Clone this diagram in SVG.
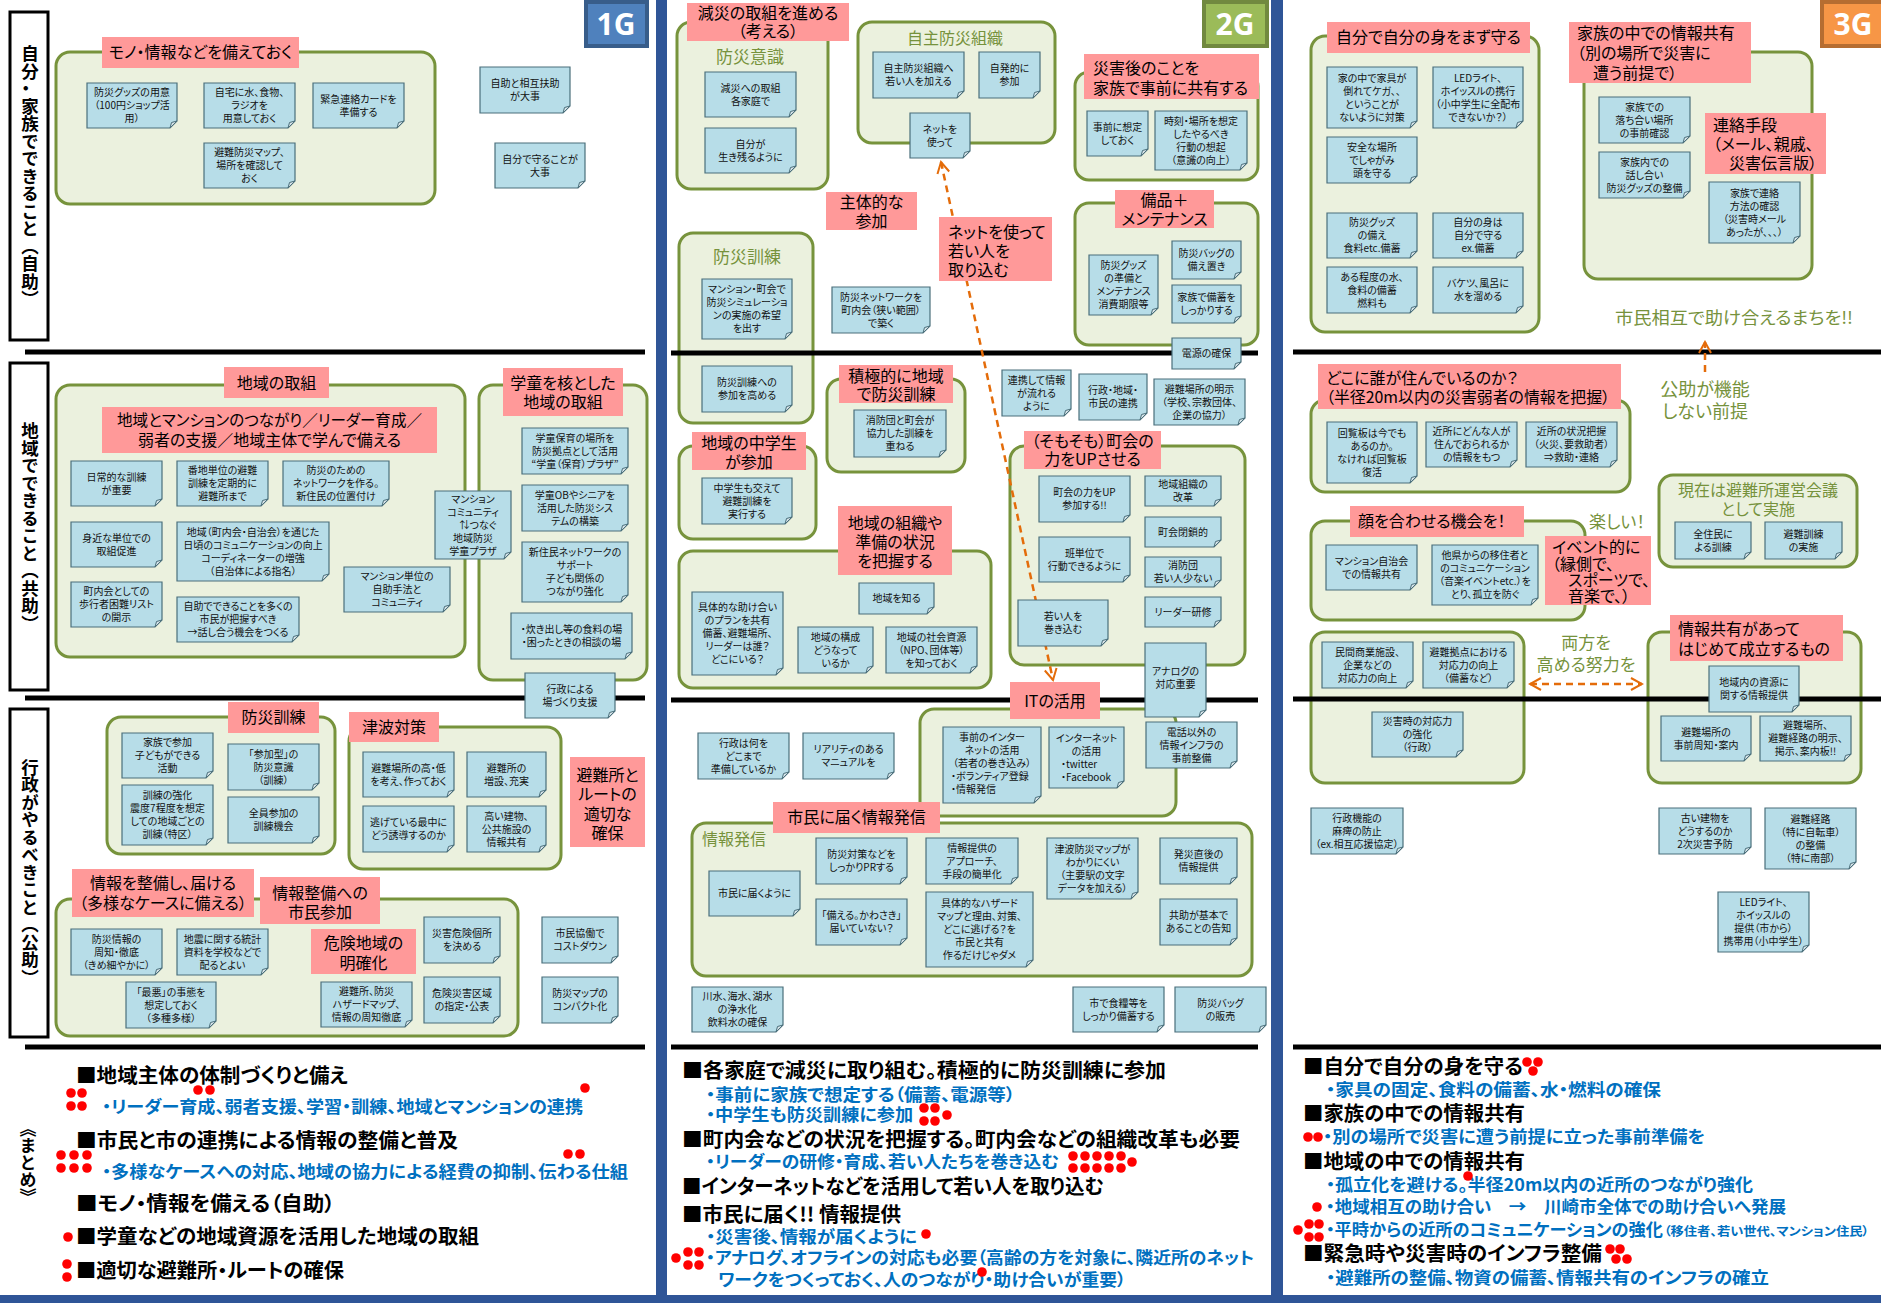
<svg xmlns="http://www.w3.org/2000/svg" xmlns:xlink="http://www.w3.org/1999/xlink" width="1881" height="1303" viewBox="0 0 1881 1303">
<style>
text{font-family:"Noto Sans CJK JP","Noto Sans",sans-serif;font-feature-settings:"palt"}
.n{fill:#b7dde8;stroke:#4a6f7b;stroke-width:1.2}
.f{fill:#d6e3e8;stroke:#4a6f7b;stroke-width:1}
.g{fill:#ebf1de;stroke:#77933c;stroke-width:3}
.p{fill:#ff9999}
.t{font-size:10px;text-anchor:middle;fill:#111}
.tl{font-size:10px;fill:#111}
.L{font-size:16px;fill:#000}
.c{text-anchor:middle}
.o{fill:#76923c}
.h{font-size:20px;font-weight:bold;fill:#000}
.b{font-size:17px;font-weight:bold;fill:#0070c0}
.d{fill:#ff0000}
.hl{stroke:#000;stroke-width:5}
.sep{fill:#2f5597}
.v{font-size:17.5px;font-weight:bold;writing-mode:vertical-rl;text-anchor:middle;fill:#000}
.ar{fill:none;stroke:#e46c0a;stroke-width:2.5;stroke-dasharray:7 5}
.bg{font-family:"Noto Sans",sans-serif;font-size:30px;font-weight:bold;fill:#fff;text-anchor:middle}
</style>
<defs>
<path id="f" class="f" d="M0 -7L-7 0L-5.5 -5.5Z"/>
<marker id="ah" viewBox="0 0 14 14" refX="12" refY="7" markerWidth="14" markerHeight="14" markerUnits="userSpaceOnUse" orient="auto-start-reverse"><path d="M1 1L12 7L1 13" fill="none" stroke="#e46c0a" stroke-width="2"/></marker>
</defs>
<rect width="1881" height="1303" fill="#fff"/>

<!-- frame bars -->
<g id="frame">
<rect class="sep" x="656" y="0" width="11" height="1303"/>
<rect class="sep" x="1271" y="0" width="12" height="1303"/>
<rect class="sep" x="0" y="1295" width="1881" height="8"/>
</g>

<!-- badges and row labels -->
<g id="badge1"><rect x="586" y="2" width="61" height="44" fill="#4f81bd" stroke="#385d8a" stroke-width="4"/><text class="bg" x="616" y="35">1G</text></g>
<g id="badge2"><rect x="1204" y="2" width="63" height="44" fill="#9bbb59" stroke="#71893f" stroke-width="4"/><text class="bg" x="1235" y="35">2G</text></g>
<g id="badge3"><rect x="1822" y="2" width="62" height="44" fill="#f79646" stroke="#b66d31" stroke-width="4"/><text class="bg" x="1853" y="35">3G</text></g>
<g id="row1"><rect x="10" y="12" width="38" height="328" fill="#fff" stroke="#000" stroke-width="3"/><text class="v" x="30" y="176">自分・家族でできること（自助）</text></g>
<g id="row2"><rect x="10" y="363" width="38" height="327" fill="#fff" stroke="#000" stroke-width="3"/><text class="v" x="30" y="527">地域でできること（共助）</text></g>
<g id="row3"><rect x="10" y="709" width="38" height="328" fill="#fff" stroke="#000" stroke-width="3"/><text class="v" x="30" y="872">行政がやるべきこと（公助）</text></g>
<g id="matome"><text class="v" x="28" y="1163" style="font-size:17px">《まとめ》</text></g>

<!-- containers -->
<g id="g-mono"><rect class="g" x="56" y="52" width="379" height="152" rx="14"/></g>
<g id="g-chiiki"><rect class="g" x="56" y="385" width="409" height="272" rx="14"/></g>
<g id="g-gakudo"><rect class="g" x="479" y="385" width="168" height="295" rx="14"/></g>
<g id="g-kunren1"><rect class="g" x="107" y="717" width="228" height="137" rx="14"/></g>
<g id="g-tsunami"><rect class="g" x="349" y="727" width="212" height="142" rx="14"/></g>
<g id="g-joho"><rect class="g" x="56" y="899" width="462" height="137" rx="14"/></g>
<g id="g-ishiki"><rect class="g" x="677" y="22" width="151" height="167" rx="14"/><text class="c o" x="750" y="63" font-size="17">防災意識</text></g>
<g id="g-jishu"><rect class="g" x="858" y="22" width="197" height="121" rx="14"/><text class="c o" x="955" y="44" font-size="16">自主防災組織</text></g>
<g id="g-saigaigo"><rect class="g" x="1075" y="72" width="183" height="108" rx="14"/></g>
<g id="g-kunren2"><rect class="g" x="679" y="233" width="134" height="190" rx="14"/><text class="c o" x="747" y="263" font-size="17">防災訓練</text></g>
<g id="g-bihin"><rect class="g" x="1075" y="203" width="183" height="142" rx="14"/></g>
<g id="g-sekkyoku"><rect class="g" x="827" y="379" width="138" height="93" rx="14"/></g>
<g id="g-chugaku"><rect class="g" x="679" y="446" width="137" height="93" rx="14"/></g>
<g id="g-soshiki"><rect class="g" x="679" y="551" width="312" height="137" rx="14"/></g>
<g id="g-chokai"><rect class="g" x="1010" y="446" width="235" height="219" rx="14"/></g>
<g id="g-it"><rect class="g" x="920" y="709" width="256" height="107" rx="14"/></g>
<g id="g-todoku"><rect class="g" x="692" y="823" width="560" height="153" rx="14"/><text class="o" x="702" y="845" font-size="16">情報発信</text></g>
<g id="g-jibun"><rect class="g" x="1311" y="36" width="228" height="296" rx="14"/></g>
<g id="g-kazoku"><rect class="g" x="1584" y="52" width="228" height="227" rx="14"/></g>
<g id="g-doko"><rect class="g" x="1311" y="400" width="319" height="92" rx="14"/></g>
<g id="g-genzai"><rect class="g" x="1659" y="475" width="198" height="92" rx="14"/><text class="c o" x="1758" y="496" font-size="16">現在は避難所運営会議<tspan x="1758" dy="19">として実施</tspan></text></g>
<g id="g-kao"><rect class="g" x="1311" y="521" width="274" height="99" rx="14"/></g>
<g id="g-taio"><rect class="g" x="1311" y="632" width="213" height="151" rx="14"/></g>
<g id="g-kyoyu"><rect class="g" x="1648" y="632" width="213" height="151" rx="14"/></g>

<!-- row separator lines -->
<g id="lines">
<line class="hl" x1="25" y1="352" x2="645" y2="352"/><line class="hl" x1="25" y1="698" x2="645" y2="698"/><line class="hl" x1="25" y1="1047" x2="645" y2="1047"/>
<line class="hl" x1="671" y1="353" x2="1258" y2="353"/><line class="hl" x1="671" y1="700" x2="1258" y2="700"/><line class="hl" x1="671" y1="1047" x2="1258" y2="1047"/>
<line class="hl" x1="1293" y1="352" x2="1881" y2="352"/><line class="hl" x1="1293" y1="699" x2="1881" y2="699"/><line class="hl" x1="1293" y1="1047" x2="1881" y2="1047"/>
</g>

<!-- connectors -->
<g id="connectors">
<path class="ar" d="M941 162L1053 680" marker-start="url(#ah)" marker-end="url(#ah)"/>
<path class="ar" d="M1705 372V342" marker-end="url(#ah)"/>
<path class="ar" d="M1530 684H1642" marker-start="url(#ah)" marker-end="url(#ah)"/>
</g>

<!-- pink labels -->
<g id="p1"><rect class="p" x="102" y="37" width="197" height="31"/><text class="L c" x="200.5" y="58" font-size="15">モノ・情報などを備えておく</text></g>
<g id="p2"><rect class="p" x="224" y="367" width="105" height="31"/><text class="L c" x="276.5" y="389" font-size="17">地域の取組</text></g>
<g id="p3"><rect class="p" x="102" y="407" width="335" height="46"/><text class="L c" x="269.5" y="426" font-size="15" textLength="305" lengthAdjust="spacingAndGlyphs">地域とマンションのつながり／リーダー育成／</text><text class="L c" x="269.5" y="446" font-size="15" textLength="263" lengthAdjust="spacingAndGlyphs">弱者の支援／地域主体で学んで備える</text></g>
<g id="p4"><rect class="p" x="503" y="368" width="120" height="48"/><text class="L c" x="563" y="389">学童を核とした<tspan x="563" dy="19">地域の取組</tspan></text></g>
<g id="p5"><rect class="p" x="228" y="702" width="91" height="31"/><text class="L c" x="273.5" y="723" font-size="17">防災訓練</text></g>
<g id="p6"><rect class="p" x="349" y="712" width="90" height="30"/><text class="L c" x="394" y="733" font-size="17">津波対策</text></g>
<g id="p7"><rect class="p" x="570" y="757" width="75" height="90"/><text class="L c" x="607.5" y="781" font-size="17">避難所と<tspan x="607.5" dy="19.3">ルートの</tspan><tspan x="607.5" dy="19.3">適切な</tspan><tspan x="607.5" dy="19.3">確保</tspan></text></g>
<g id="p8"><rect class="p" x="72" y="869" width="182" height="48"/><text class="L c" x="163" y="889">情報を整備し、届ける<tspan x="163" dy="20">（多様なケースに備える）</tspan></text></g>
<g id="p9"><rect class="p" x="260" y="877" width="120" height="47"/><text class="L c" x="320" y="899">情報整備への<tspan x="320" dy="19">市民参加</tspan></text></g>
<g id="p10"><rect class="p" x="311" y="929" width="105" height="45"/><text class="L c" x="363.5" y="949" font-size="17">危険地域の<tspan x="363.5" dy="20">明確化</tspan></text></g>
<g id="p11"><rect class="p" x="687" y="3" width="162" height="38"/><text class="L c" x="768" y="19">減災の取組を進める<tspan x="768" dy="18">（考える）</tspan></text></g>
<g id="p12"><rect class="p" x="1084" y="54" width="175" height="45"/><text class="L" x="1093" y="74">災害後のことを<tspan x="1093" dy="20">家族で事前に共有する</tspan></text></g>
<g id="p13"><rect class="p" x="826" y="192" width="91" height="38"/><text class="L c" x="871.5" y="208" font-size="17">主体的な<tspan x="871.5" dy="19">参加</tspan></text></g>
<g id="p14"><rect class="p" x="939" y="217" width="113" height="64"/><text class="L" x="948" y="238" font-size="17">ネットを使って<tspan x="948" dy="19">若い人を</tspan><tspan x="948" dy="19">取り込む</tspan></text></g>
<g id="p15"><rect class="p" x="1115" y="190" width="99" height="38"/><text class="L c" x="1164.5" y="206">備品＋<tspan x="1164.5" dy="19">メンテナンス</tspan></text></g>
<g id="p16"><rect class="p" x="839" y="365" width="114" height="38"/><text class="L c" x="896" y="382" font-size="17">積極的に地域<tspan x="896" dy="18">で防災訓練</tspan></text></g>
<g id="p17"><rect class="p" x="692" y="432" width="114" height="38"/><text class="L c" x="749" y="449" font-size="17">地域の中学生<tspan x="749" dy="19">が参加</tspan></text></g>
<g id="p18"><rect class="p" x="838" y="506" width="114" height="69"/><text class="L c" x="895" y="529" font-size="17">地域の組織や<tspan x="895" dy="19">準備の状況</tspan><tspan x="895" dy="19">を把握する</tspan></text></g>
<g id="p19"><rect class="p" x="1024" y="431" width="137" height="38"/><text class="L c" x="1092.5" y="447">（そもそも）町会の<tspan x="1092.5" dy="18">力をUPさせる</tspan></text></g>
<g id="p20"><rect class="p" x="1010" y="682" width="90" height="37"/><text class="L c" x="1055" y="707" font-size="17">ITの活用</text></g>
<g id="p21"><rect class="p" x="773" y="802" width="167" height="31"/><text class="L c" x="856.5" y="823">市民に届く情報発信</text></g>
<g id="p22"><rect class="p" x="1327" y="22" width="203" height="31"/><text class="L c" x="1428.5" y="43">自分で自分の身をまず守る</text></g>
<g id="p23"><rect class="p" x="1569" y="22" width="182" height="61"/><text class="L" x="1577" y="39">家族の中での情報共有<tspan x="1577" dy="20">（別の場所で災害に</tspan><tspan x="1577" dy="20">　遭う前提で）</tspan></text></g>
<g id="p24"><rect class="p" x="1705" y="113" width="121" height="61"/><text class="L" x="1713" y="131">連絡手段<tspan x="1713" dy="19">（メール、親戚、</tspan><tspan x="1713" dy="19">　災害伝言版）</tspan></text></g>
<g id="p25"><rect class="p" x="1318" y="364" width="303" height="45"/><text class="L" x="1326" y="384">どこに誰が住んでいるのか？</text><text class="L" x="1326" y="403" textLength="284" lengthAdjust="spacingAndGlyphs">（半径20m以内の災害弱者の情報を把握）</text></g>
<g id="p26"><rect class="p" x="1350" y="506" width="174" height="31"/><text class="L" x="1358" y="527">顔を合わせる機会を！</text></g>
<g id="p27"><rect class="p" x="1545" y="536" width="106" height="69"/><text class="L" x="1552" y="553" font-size="15">イベント的に<tspan x="1552" dy="16.5">（縁側で、</tspan><tspan x="1552" dy="16">　スポーツで、</tspan><tspan x="1552" dy="16">　音楽で、）</tspan></text></g>
<g id="p28"><rect class="p" x="1670" y="615" width="173" height="46"/><text class="L" x="1678" y="635">情報共有があって<tspan x="1678" dy="20">はじめて成立するもの</tspan></text></g>

<!-- free green texts -->
<g id="tx-machi"><text class="o" x="1615" y="324" font-size="17" textLength="238" lengthAdjust="spacingAndGlyphs">市民相互で助け合えるまちを!!</text></g>
<g id="tx-kojo"><text class="c o" x="1705" y="396" font-size="18">公助が機能<tspan x="1705" dy="22">しない前提</tspan></text></g>
<g id="tx-tanoshii"><text class="o" x="1589" y="528" font-size="17">楽しい！</text></g>
<g id="tx-ryoho"><text class="c o" x="1586" y="649" font-size="17">両方を<tspan x="1586" dy="22">高める努力を</tspan></text></g>

<!-- notes column 1 -->
<g id="n1"><path class="n" d="M87 83h90v38l-7 7H87z"/><use href="#f" x="177" y="128"/><text class="t" x="132" y="96">防災グッズの用意<tspan x="132" dy="13">（100円ショップ活</tspan><tspan x="132" dy="13">用）</tspan></text></g>
<g id="n2"><path class="n" d="M204 83h91v38l-7 7H204z"/><use href="#f" x="295" y="128"/><text class="t" x="249.5" y="96">自宅に水、食物、<tspan x="249.5" dy="13">ラジオを</tspan><tspan x="249.5" dy="13">用意しておく</tspan></text></g>
<g id="n3"><path class="n" d="M313 83h91v38l-7 7H313z"/><use href="#f" x="404" y="128"/><text class="t" x="358.5" y="102.5">緊急連絡カードを<tspan x="358.5" dy="13">準備する</tspan></text></g>
<g id="n4"><path class="n" d="M204 143h91v38l-7 7H204z"/><use href="#f" x="295" y="188"/><text class="t" x="249.5" y="156">避難防災マップ、<tspan x="249.5" dy="13">場所を確認して</tspan><tspan x="249.5" dy="13">おく</tspan></text></g>
<g id="n5"><path class="n" d="M480 67h90v39l-7 7H480z"/><use href="#f" x="570" y="113"/><text class="t" x="525" y="87">自助と相互扶助<tspan x="525" dy="13">が大事</tspan></text></g>
<g id="n6"><path class="n" d="M495 143h90v38l-7 7H495z"/><use href="#f" x="585" y="188"/><text class="t" x="540" y="162.5">自分で守ることが<tspan x="540" dy="13">大事</tspan></text></g>
<g id="n7"><path class="n" d="M71 461h91v38l-7 7H71z"/><use href="#f" x="162" y="506"/><text class="t" x="116.5" y="480.5">日常的な訓練<tspan x="116.5" dy="13">が重要</tspan></text></g>
<g id="n8"><path class="n" d="M177 461h91v38l-7 7H177z"/><use href="#f" x="268" y="506"/><text class="t" x="222.5" y="474">番地単位の避難<tspan x="222.5" dy="13">訓練を定期的に</tspan><tspan x="222.5" dy="13">避難所まで</tspan></text></g>
<g id="n9"><path class="n" d="M283 461h106v38l-7 7H283z"/><use href="#f" x="389" y="506"/><text class="t" x="336" y="474">防災のための<tspan x="336" dy="13">ネットワークを作る。</tspan><tspan x="336" dy="13">新住民の位置付け</tspan></text></g>
<g id="n10"><path class="n" d="M71 522h91v38l-7 7H71z"/><use href="#f" x="162" y="567"/><text class="t" x="116.5" y="541.5">身近な単位での<tspan x="116.5" dy="13">取組促進</tspan></text></g>
<g id="n11"><path class="n" d="M177 522h152v52l-7 7H177z"/><use href="#f" x="329" y="581"/><text class="t" x="253" y="535.5">地域（町内会・自治会）を通じた<tspan x="253" dy="13">日頃のコミュニケーションの向上</tspan><tspan x="253" dy="13">コーディネーターの増強</tspan><tspan x="253" dy="13">（自治体による指名）</tspan></text></g>
<g id="n12"><path class="n" d="M71 582h91v38l-7 7H71z"/><use href="#f" x="162" y="627"/><text class="t" x="116.5" y="595">町内会としての<tspan x="116.5" dy="13">歩行者困難リスト</tspan><tspan x="116.5" dy="13">の開示</tspan></text></g>
<g id="n13"><path class="n" d="M177 597h122v38l-7 7H177z"/><use href="#f" x="299" y="642"/><text class="t" x="238" y="610">自助でできることを多くの<tspan x="238" dy="13">市民が把握すべき</tspan><tspan x="238" dy="13">→話し合う機会をつくる</tspan></text></g>
<g id="n14"><path class="n" d="M344 567h106v38l-7 7H344z"/><use href="#f" x="450" y="612"/><text class="t" x="397" y="580">マンション単位の<tspan x="397" dy="13">自助手法と</tspan><tspan x="397" dy="13">コミュニティ</tspan></text></g>
<g id="n15"><path class="n" d="M435 491h76v61l-7 7H435z"/><use href="#f" x="511" y="559"/><text class="t" x="473" y="502.5">マンション<tspan x="473" dy="13">コミュニティ</tspan><tspan x="478" dy="13">⇅つなぐ</tspan><tspan x="473" dy="13">地域防災</tspan><tspan x="473" dy="13">学童プラザ</tspan></text></g>
<g id="n16"><path class="n" d="M522 428h106v39l-7 7H522z"/><use href="#f" x="628" y="474"/><text class="t" x="575" y="441.5">学童保育の場所を<tspan x="575" dy="13">防災拠点として活用</tspan><tspan x="575" dy="13">“学童（保育）プラザ”</tspan></text></g>
<g id="n17"><path class="n" d="M522 485h106v39l-7 7H522z"/><use href="#f" x="628" y="531"/><text class="t" x="575" y="498.5">学童OBやシニアを<tspan x="575" dy="13">活用した防災シス</tspan><tspan x="575" dy="13">テムの構築</tspan></text></g>
<g id="n18"><path class="n" d="M522 542h106v53l-7 7H522z"/><use href="#f" x="628" y="602"/><text class="t" x="575" y="556">新住民ネットワークの<tspan x="575" dy="13">サポート</tspan><tspan x="575" dy="13">子ども関係の</tspan><tspan x="575" dy="13">つながり強化</tspan></text></g>
<g id="n19"><path class="n" d="M511 613h121v39l-7 7H511z"/><use href="#f" x="632" y="659"/><text class="t" x="571.5" y="633">・炊き出し等の食料の場<tspan x="571.5" dy="13">・困ったときの相談の場</tspan></text></g>
<g id="n20"><path class="n" d="M525 673h90v38l-7 7H525z"/><use href="#f" x="615" y="718"/><text class="t" x="570" y="692.5">行政による<tspan x="570" dy="13">場づくり支援</tspan></text></g>
<g id="n21"><path class="n" d="M122 733h91v38l-7 7H122z"/><use href="#f" x="213" y="778"/><text class="t" x="167.5" y="746">家族で参加<tspan x="167.5" dy="13">子どもができる</tspan><tspan x="167.5" dy="13">活動</tspan></text></g>
<g id="n22"><path class="n" d="M228 744h91v39l-7 7H228z"/><use href="#f" x="319" y="790"/><text class="t" x="273.5" y="757.5">「参加型」の<tspan x="273.5" dy="13">防災意識</tspan><tspan x="273.5" dy="13">（訓練）</tspan></text></g>
<g id="n23"><path class="n" d="M122 785h91v53l-7 7H122z"/><use href="#f" x="213" y="845"/><text class="t" x="167.5" y="799">訓練の強化<tspan x="167.5" dy="13">震度7程度を想定</tspan><tspan x="167.5" dy="13">しての地域ごとの</tspan><tspan x="167.5" dy="13">訓練（特区）</tspan></text></g>
<g id="n24"><path class="n" d="M228 797h91v39l-7 7H228z"/><use href="#f" x="319" y="843"/><text class="t" x="273.5" y="817">全員参加の<tspan x="273.5" dy="13">訓練機会</tspan></text></g>
<g id="n25"><path class="n" d="M363 752h91v38l-7 7H363z"/><use href="#f" x="454" y="797"/><text class="t" x="408.5" y="771.5">避難場所の高・低<tspan x="408.5" dy="13">を考え、作っておく</tspan></text></g>
<g id="n26"><path class="n" d="M467 752h79v38l-7 7H467z"/><use href="#f" x="546" y="797"/><text class="t" x="506.5" y="771.5">避難所の<tspan x="506.5" dy="13">増設、充実</tspan></text></g>
<g id="n27"><path class="n" d="M363 806h91v39l-7 7H363z"/><use href="#f" x="454" y="852"/><text class="t" x="408.5" y="826">逃げている最中に<tspan x="408.5" dy="13">どう誘導するのか</tspan></text></g>
<g id="n28"><path class="n" d="M467 806h79v39l-7 7H467z"/><use href="#f" x="546" y="852"/><text class="t" x="506.5" y="819.5">高い建物、<tspan x="506.5" dy="13">公共施設の</tspan><tspan x="506.5" dy="13">情報共有</tspan></text></g>
<g id="n29"><path class="n" d="M71 929h91v39l-7 7H71z"/><use href="#f" x="162" y="975"/><text class="t" x="116.5" y="942.5">防災情報の<tspan x="116.5" dy="13">周知・徹底</tspan><tspan x="116.5" dy="13">（きめ細やかに）</tspan></text></g>
<g id="n30"><path class="n" d="M177 929h91v39l-7 7H177z"/><use href="#f" x="268" y="975"/><text class="t" x="222.5" y="942.5">地震に関する統計<tspan x="222.5" dy="13">資料を学校などで</tspan><tspan x="222.5" dy="13">配るとよい</tspan></text></g>
<g id="n31"><path class="n" d="M126 982h90v39l-7 7H126z"/><use href="#f" x="216" y="1028"/><text class="t" x="171" y="995.5">「最悪」の事態を<tspan x="171" dy="13">想定しておく</tspan><tspan x="171" dy="13">（多種多様）</tspan></text></g>
<g id="n32"><path class="n" d="M424 917h76v39l-7 7H424z"/><use href="#f" x="500" y="963"/><text class="t" x="462" y="937">災害危険個所<tspan x="462" dy="13">を決める</tspan></text></g>
<g id="n33"><path class="n" d="M321 982h91v38l-7 7H321z"/><use href="#f" x="412" y="1027"/><text class="t" x="366.5" y="995">避難所、防災<tspan x="366.5" dy="13">ハザードマップ、</tspan><tspan x="366.5" dy="13">情報の周知徹底</tspan></text></g>
<g id="n34"><path class="n" d="M424 977h76v39l-7 7H424z"/><use href="#f" x="500" y="1023"/><text class="t" x="462" y="997">危険災害区域<tspan x="462" dy="13">の指定・公表</tspan></text></g>
<g id="n35"><path class="n" d="M542 917h76v39l-7 7H542z"/><use href="#f" x="618" y="963"/><text class="t" x="580" y="937">市民協働で<tspan x="580" dy="13">コストダウン</tspan></text></g>
<g id="n36"><path class="n" d="M542 977h76v39l-7 7H542z"/><use href="#f" x="618" y="1023"/><text class="t" x="580" y="997">防災マップの<tspan x="580" dy="13">コンパクト化</tspan></text></g>

<!-- notes column 2 -->
<g id="n37"><path class="n" d="M705 72h91v38l-7 7H705z"/><use href="#f" x="796" y="117"/><text class="t" x="750.5" y="91.5">減災への取組<tspan x="750.5" dy="13">各家庭で</tspan></text></g>
<g id="n38"><path class="n" d="M705 128h91v38l-7 7H705z"/><use href="#f" x="796" y="173"/><text class="t" x="750.5" y="147.5">自分が<tspan x="750.5" dy="13">生き残るように</tspan></text></g>
<g id="n39"><path class="n" d="M873 52h91v39l-7 7H873z"/><use href="#f" x="964" y="98"/><text class="t" x="918.5" y="72">自主防災組織へ<tspan x="918.5" dy="13">若い人を加える</tspan></text></g>
<g id="n40"><path class="n" d="M979 52h61v39l-7 7H979z"/><use href="#f" x="1040" y="98"/><text class="t" x="1009.5" y="72">自発的に<tspan x="1009.5" dy="13">参加</tspan></text></g>
<g id="n41"><path class="n" d="M910 113h60v38l-7 7H910z"/><use href="#f" x="970" y="158"/><text class="t" x="940" y="132.5">ネットを<tspan x="940" dy="13">使って</tspan></text></g>
<g id="n42"><path class="n" d="M1087 111h61v38l-7 7H1087z"/><use href="#f" x="1148" y="156"/><text class="t" x="1117.5" y="130.5">事前に想定<tspan x="1117.5" dy="13">しておく</tspan></text></g>
<g id="n43"><path class="n" d="M1155 111h92v52l-7 7H1155z"/><use href="#f" x="1247" y="170"/><text class="t" x="1201" y="124.5">時刻・場所を想定<tspan x="1201" dy="13">したやるべき</tspan><tspan x="1201" dy="13">行動の想起</tspan><tspan x="1201" dy="13">（意識の向上）</tspan></text></g>
<g id="n44"><path class="n" d="M702 279h90v53l-7 7H702z"/><use href="#f" x="792" y="339"/><text class="t" x="747" y="293">マンション・町会で<tspan x="747" dy="13">防災シミュレーショ</tspan><tspan x="747" dy="13">ンの実施の希望</tspan><tspan x="747" dy="13">を出す</tspan></text></g>
<g id="n45"><path class="n" d="M702 366h90v39l-7 7H702z"/><use href="#f" x="792" y="412"/><text class="t" x="747" y="386">防災訓練への<tspan x="747" dy="13">参加を高める</tspan></text></g>
<g id="n46"><path class="n" d="M832 287h98v39l-7 7H832z"/><use href="#f" x="930" y="333"/><text class="t" x="881" y="300.5">防災ネットワークを<tspan x="881" dy="13">町内会（狭い範囲）</tspan><tspan x="881" dy="13">で築く</tspan></text></g>
<g id="n47"><path class="n" d="M1089 255h69v53l-7 7H1089z"/><use href="#f" x="1158" y="315"/><text class="t" x="1123.5" y="269">防災グッズ<tspan x="1123.5" dy="13">の準備と</tspan><tspan x="1123.5" dy="13">メンテナンス</tspan><tspan x="1123.5" dy="13">消費期限等</tspan></text></g>
<g id="n48"><path class="n" d="M1172 241h69v31l-7 7H1172z"/><use href="#f" x="1241" y="279"/><text class="t" x="1206.5" y="257">防災バッグの<tspan x="1206.5" dy="13">備え置き</tspan></text></g>
<g id="n49"><path class="n" d="M1172 285h69v31l-7 7H1172z"/><use href="#f" x="1241" y="323"/><text class="t" x="1206.5" y="301">家族で備蓄を<tspan x="1206.5" dy="13">しっかりする</tspan></text></g>
<g id="n50"><path class="n" d="M1172 338h69v24l-7 7H1172z"/><use href="#f" x="1241" y="369"/><text class="t" x="1206.5" y="357">電源の確保</text></g>
<g id="n51"><path class="n" d="M854 410h92v40l-7 7H854z"/><use href="#f" x="946" y="457"/><text class="t" x="900" y="424">消防団と町会が<tspan x="900" dy="13">協力した訓練を</tspan><tspan x="900" dy="13">重ねる</tspan></text></g>
<g id="n52"><path class="n" d="M702 478h90v39l-7 7H702z"/><use href="#f" x="792" y="524"/><text class="t" x="747" y="491.5">中学生も交えて<tspan x="747" dy="13">避難訓練を</tspan><tspan x="747" dy="13">実行する</tspan></text></g>
<g id="n53"><path class="n" d="M692 592h91v76l-7 7H692z"/><use href="#f" x="783" y="675"/><text class="t" x="737.5" y="611">具体的な助け合い<tspan x="737.5" dy="13">のプランを共有</tspan><tspan x="737.5" dy="13">備蓄、避難場所、</tspan><tspan x="737.5" dy="13">リーダーは誰？</tspan><tspan x="737.5" dy="13">どこにいる？</tspan></text></g>
<g id="n54"><path class="n" d="M859 583h75v24l-7 7H859z"/><use href="#f" x="934" y="614"/><text class="t" x="896.5" y="602">地域を知る</text></g>
<g id="n55"><path class="n" d="M798 627h75v39l-7 7H798z"/><use href="#f" x="873" y="673"/><text class="t" x="835.5" y="640.5">地域の構成<tspan x="835.5" dy="13">どうなって</tspan><tspan x="835.5" dy="13">いるか</tspan></text></g>
<g id="n56"><path class="n" d="M886 627h91v39l-7 7H886z"/><use href="#f" x="977" y="673"/><text class="t" x="931.5" y="640.5">地域の社会資源<tspan x="931.5" dy="13">（NPO、団体等）</tspan><tspan x="931.5" dy="13">を知っておく</tspan></text></g>
<g id="n57"><path class="n" d="M1002 370h69v39l-7 7H1002z"/><use href="#f" x="1071" y="416"/><text class="t" x="1036.5" y="383.5">連携して情報<tspan x="1036.5" dy="13">が流れる</tspan><tspan x="1036.5" dy="13">ように</tspan></text></g>
<g id="n58"><path class="n" d="M1079 374h68v39l-7 7H1079z"/><use href="#f" x="1147" y="420"/><text class="t" x="1113" y="394">行政・地域・<tspan x="1113" dy="13">市民の連携</tspan></text></g>
<g id="n59"><path class="n" d="M1154 379h91v39l-7 7H1154z"/><use href="#f" x="1245" y="425"/><text class="t" x="1199.5" y="392.5">避難場所の明示<tspan x="1199.5" dy="13">（学校、宗教団体、</tspan><tspan x="1199.5" dy="13">企業の協力）</tspan></text></g>
<g id="n60"><path class="n" d="M1039 476h91v39l-7 7H1039z"/><use href="#f" x="1130" y="522"/><text class="t" x="1084.5" y="496">町会の力をUP<tspan x="1084.5" dy="13">参加する!!</tspan></text></g>
<g id="n61"><path class="n" d="M1145 476h76v23l-7 7H1145z"/><use href="#f" x="1221" y="506"/><text class="t" x="1183" y="488">地域組織の<tspan x="1183" dy="13">改革</tspan></text></g>
<g id="n62"><path class="n" d="M1145 517h76v23l-7 7H1145z"/><use href="#f" x="1221" y="547"/><text class="t" x="1183" y="535.5">町会閉鎖的</text></g>
<g id="n63"><path class="n" d="M1039 537h91v38l-7 7H1039z"/><use href="#f" x="1130" y="582"/><text class="t" x="1084.5" y="556.5">班単位で<tspan x="1084.5" dy="13">行動できるように</tspan></text></g>
<g id="n64"><path class="n" d="M1145 557h76v23l-7 7H1145z"/><use href="#f" x="1221" y="587"/><text class="t" x="1183" y="569">消防団<tspan x="1183" dy="13">若い人少ない</tspan></text></g>
<g id="n65"><path class="n" d="M1018 600h90v39l-7 7H1018z"/><use href="#f" x="1108" y="646"/><text class="t" x="1063" y="620">若い人を<tspan x="1063" dy="13">巻き込む</tspan></text></g>
<g id="n66"><path class="n" d="M1145 597h76v23l-7 7H1145z"/><use href="#f" x="1221" y="627"/><text class="t" x="1183" y="615.5">リーダー研修</text></g>
<g id="n67"><path class="n" d="M1145 643h61v67l-7 7H1145z"/><use href="#f" x="1206" y="717"/><text class="t" x="1175.5" y="675">アナログの<tspan x="1175.5" dy="13">対応重要</tspan></text></g>
<g id="n68"><path class="n" d="M943 727h98v69l-7 7H943z"/><use href="#f" x="1041" y="803"/><text class="t" x="992" y="741">事前のインター<tspan x="992" dy="13">ネットの活用</tspan><tspan x="992" dy="13">（若者の巻き込み）</tspan><tspan x="951" dy="13" text-anchor="start">・ボランティア登録</tspan><tspan x="951" dy="13" text-anchor="start">・情報発信</tspan></text></g>
<g id="n69"><path class="n" d="M1049 727h75v54l-7 7H1049z"/><use href="#f" x="1124" y="788"/><text class="t" x="1086.5" y="741.5">インターネット<tspan x="1086.5" dy="13">の活用</tspan><tspan x="1061" dy="13" text-anchor="start">・twitter</tspan><tspan x="1061" dy="13" text-anchor="start">・Facebook</tspan></text></g>
<g id="n70"><path class="n" d="M1146 722h91v39l-7 7H1146z"/><use href="#f" x="1237" y="768"/><text class="t" x="1191.5" y="735.5">電話以外の<tspan x="1191.5" dy="13">情報インフラの</tspan><tspan x="1191.5" dy="13">事前整備</tspan></text></g>
<g id="n71"><path class="n" d="M698 733h91v39l-7 7H698z"/><use href="#f" x="789" y="779"/><text class="t" x="743.5" y="746.5">行政は何を<tspan x="743.5" dy="13">どこまで</tspan><tspan x="743.5" dy="13">準備しているか</tspan></text></g>
<g id="n72"><path class="n" d="M803 733h91v39l-7 7H803z"/><use href="#f" x="894" y="779"/><text class="t" x="848.5" y="753">リアリティのある<tspan x="848.5" dy="13">マニュアルを</tspan></text></g>
<g id="n73"><path class="n" d="M709 871h91v38l-7 7H709z"/><use href="#f" x="800" y="916"/><text class="t" x="754.5" y="897">市民に届くように</text></g>
<g id="n74"><path class="n" d="M816 838h91v39l-7 7H816z"/><use href="#f" x="907" y="884"/><text class="t" x="861.5" y="858">防災対策などを<tspan x="861.5" dy="13">しっかりPRする</tspan></text></g>
<g id="n75"><path class="n" d="M816 899h91v39l-7 7H816z"/><use href="#f" x="907" y="945"/><text class="t" x="861.5" y="919">「備える。かわさき」<tspan x="861.5" dy="13">届いていない？</tspan></text></g>
<g id="n76"><path class="n" d="M926 838h92v39l-7 7H926z"/><use href="#f" x="1018" y="884"/><text class="t" x="972" y="851.5">情報提供の<tspan x="972" dy="13">アプローチ、</tspan><tspan x="972" dy="13">手段の簡単化</tspan></text></g>
<g id="n77"><path class="n" d="M926 892h107v68l-7 7H926z"/><use href="#f" x="1033" y="967"/><text class="t" x="979.5" y="907">具体的なハザード<tspan x="979.5" dy="13">マップと理由、対策、</tspan><tspan x="979.5" dy="13">どこに逃げる？を</tspan><tspan x="979.5" dy="13">市民と共有</tspan><tspan x="979.5" dy="13">作るだけじゃダメ</tspan></text></g>
<g id="n78"><path class="n" d="M1047 838h91v54l-7 7H1047z"/><use href="#f" x="1138" y="899"/><text class="t" x="1092.5" y="852.5">津波防災マップが<tspan x="1092.5" dy="13">わかりにくい</tspan><tspan x="1092.5" dy="13">（主要駅の文字</tspan><tspan x="1092.5" dy="13">データを加える）</tspan></text></g>
<g id="n79"><path class="n" d="M1160 838h77v39l-7 7H1160z"/><use href="#f" x="1237" y="884"/><text class="t" x="1198.5" y="858">発災直後の<tspan x="1198.5" dy="13">情報提供</tspan></text></g>
<g id="n80"><path class="n" d="M1160 899h77v39l-7 7H1160z"/><use href="#f" x="1237" y="945"/><text class="t" x="1198.5" y="919">共助が基本で<tspan x="1198.5" dy="13">あることの告知</tspan></text></g>
<g id="n81"><path class="n" d="M692 987h91v38l-7 7H692z"/><use href="#f" x="783" y="1032"/><text class="t" x="737.5" y="1000">川水、海水、湖水<tspan x="737.5" dy="13">の浄水化</tspan><tspan x="737.5" dy="13">飲料水の確保</tspan></text></g>
<g id="n82"><path class="n" d="M1073 987h91v38l-7 7H1073z"/><use href="#f" x="1164" y="1032"/><text class="t" x="1118.5" y="1006.5">市で食糧等を<tspan x="1118.5" dy="13">しっかり備蓄する</tspan></text></g>
<g id="n83"><path class="n" d="M1175 987h91v38l-7 7H1175z"/><use href="#f" x="1266" y="1032"/><text class="t" x="1220.5" y="1006.5">防災バッグ<tspan x="1220.5" dy="13">の販売</tspan></text></g>

<!-- notes column 3 -->
<g id="n84"><path class="n" d="M1327 67h90v54l-7 7H1327z"/><use href="#f" x="1417" y="128"/><text class="t" x="1372" y="81.5">家の中で家具が<tspan x="1372" dy="13">倒れてケガ、、</tspan><tspan x="1372" dy="13">ということが</tspan><tspan x="1372" dy="13">ないように対策</tspan></text></g>
<g id="n85"><path class="n" d="M1433 67h90v54l-7 7H1433z"/><use href="#f" x="1523" y="128"/><text class="t" x="1478" y="81.5">LEDライト、<tspan x="1478" dy="13">ホイッスルの携行</tspan><tspan x="1478" dy="13">（小中学生に全配布</tspan><tspan x="1478" dy="13">できないか？）</tspan></text></g>
<g id="n86"><path class="n" d="M1327 137h90v39l-7 7H1327z"/><use href="#f" x="1417" y="183"/><text class="t" x="1372" y="150.5">安全な場所<tspan x="1372" dy="13">でしゃがみ</tspan><tspan x="1372" dy="13">頭を守る</tspan></text></g>
<g id="n87"><path class="n" d="M1327 213h90v38l-7 7H1327z"/><use href="#f" x="1417" y="258"/><text class="t" x="1372" y="226">防災グッズ<tspan x="1372" dy="13">の備え</tspan><tspan x="1372" dy="13">食料etc.備蓄</tspan></text></g>
<g id="n88"><path class="n" d="M1433 213h90v38l-7 7H1433z"/><use href="#f" x="1523" y="258"/><text class="t" x="1478" y="226">自分の身は<tspan x="1478" dy="13">自分で守る</tspan><tspan x="1478" dy="13">ex.備蓄</tspan></text></g>
<g id="n89"><path class="n" d="M1327 267h90v39l-7 7H1327z"/><use href="#f" x="1417" y="313"/><text class="t" x="1372" y="280.5">ある程度の水、<tspan x="1372" dy="13">食料の備蓄</tspan><tspan x="1372" dy="13">燃料も</tspan></text></g>
<g id="n90"><path class="n" d="M1433 267h90v39l-7 7H1433z"/><use href="#f" x="1523" y="313"/><text class="t" x="1478" y="287">バケツ、風呂に<tspan x="1478" dy="13">水を溜める</tspan></text></g>
<g id="n91"><path class="n" d="M1599 97h91v39l-7 7H1599z"/><use href="#f" x="1690" y="143"/><text class="t" x="1644.5" y="110.5">家族での<tspan x="1644.5" dy="13">落ち合い場所</tspan><tspan x="1644.5" dy="13">の事前確認</tspan></text></g>
<g id="n92"><path class="n" d="M1599 152h91v39l-7 7H1599z"/><use href="#f" x="1690" y="198"/><text class="t" x="1644.5" y="165.5">家族内での<tspan x="1644.5" dy="13">話し合い</tspan><tspan x="1644.5" dy="13">防災グッズの整備</tspan></text></g>
<g id="n93"><path class="n" d="M1709 182h91v54l-7 7H1709z"/><use href="#f" x="1800" y="243"/><text class="t" x="1754.5" y="196.5">家族で連絡<tspan x="1754.5" dy="13">方法の確認</tspan><tspan x="1754.5" dy="13">（災害時メール</tspan><tspan x="1754.5" dy="13">あったが、、、）</tspan></text></g>
<g id="n94"><path class="n" d="M1327 422h90v54l-7 7H1327z"/><use href="#f" x="1417" y="483"/><text class="t" x="1372" y="436.5">回覧板は今でも<tspan x="1372" dy="13">あるのか。</tspan><tspan x="1372" dy="13">なければ回覧板</tspan><tspan x="1372" dy="13">復活</tspan></text></g>
<g id="n95"><path class="n" d="M1426 422h91v38l-7 7H1426z"/><use href="#f" x="1517" y="467"/><text class="t" x="1471.5" y="435">近所にどんな人が<tspan x="1471.5" dy="13">住んでおられるか</tspan><tspan x="1471.5" dy="13">の情報をもつ</tspan></text></g>
<g id="n96"><path class="n" d="M1526 422h91v38l-7 7H1526z"/><use href="#f" x="1617" y="467"/><text class="t" x="1571.5" y="435">近所の状況把握<tspan x="1571.5" dy="13">（火災、要救助者）</tspan><tspan x="1571.5" dy="13">⇒救助・連絡</tspan></text></g>
<g id="n97"><path class="n" d="M1675 522h76v30l-7 7H1675z"/><use href="#f" x="1751" y="559"/><text class="t" x="1713" y="537.5">全住民に<tspan x="1713" dy="13">よる訓練</tspan></text></g>
<g id="n98"><path class="n" d="M1765 522h77v30l-7 7H1765z"/><use href="#f" x="1842" y="559"/><text class="t" x="1803.5" y="537.5">避難訓練<tspan x="1803.5" dy="13">の実施</tspan></text></g>
<g id="n99"><path class="n" d="M1326 545h91v38l-7 7H1326z"/><use href="#f" x="1417" y="590"/><text class="t" x="1371.5" y="564.5">マンション自治会<tspan x="1371.5" dy="13">での情報共有</tspan></text></g>
<g id="n100"><path class="n" d="M1432 545h106v53l-7 7H1432z"/><use href="#f" x="1538" y="605"/><text class="t" x="1485" y="559">他県からの移住者と<tspan x="1485" dy="13">のコミュニケーション</tspan><tspan x="1485" dy="13">（音楽イベントetc.）を</tspan><tspan x="1485" dy="13">とり、孤立を防ぐ</tspan></text></g>
<g id="n101"><path class="n" d="M1322 642h91v39l-7 7H1322z"/><use href="#f" x="1413" y="688"/><text class="t" x="1367.5" y="655.5">民間商業施設、<tspan x="1367.5" dy="13">企業などの</tspan><tspan x="1367.5" dy="13">対応力の向上</tspan></text></g>
<g id="n102"><path class="n" d="M1423 642h91v39l-7 7H1423z"/><use href="#f" x="1514" y="688"/><text class="t" x="1468.5" y="655.5">避難拠点における<tspan x="1468.5" dy="13">対応力の向上</tspan><tspan x="1468.5" dy="13">（備蓄など）</tspan></text></g>
<g id="n103"><path class="n" d="M1372 712h91v38l-7 7H1372z"/><use href="#f" x="1463" y="757"/><text class="t" x="1417.5" y="725">災害時の対応力<tspan x="1417.5" dy="13">の強化</tspan><tspan x="1417.5" dy="13">（行政）</tspan></text></g>
<g id="n104"><path class="n" d="M1709 666h90v39l-7 7H1709z"/><use href="#f" x="1799" y="712"/><text class="t" x="1754" y="686">地域内の資源に<tspan x="1754" dy="13">関する情報提供</tspan></text></g>
<g id="n105"><path class="n" d="M1661 716h90v38l-7 7H1661z"/><use href="#f" x="1751" y="761"/><text class="t" x="1706" y="735.5">避難場所の<tspan x="1706" dy="13">事前周知・案内</tspan></text></g>
<g id="n106"><path class="n" d="M1760 716h91v38l-7 7H1760z"/><use href="#f" x="1851" y="761"/><text class="t" x="1805.5" y="729">避難場所、<tspan x="1805.5" dy="13">避難経路の明示、</tspan><tspan x="1805.5" dy="13">掲示、案内板!!</tspan></text></g>
<g id="n107"><path class="n" d="M1311 808h92v39l-7 7H1311z"/><use href="#f" x="1403" y="854"/><text class="t" x="1357" y="821.5">行政機能の<tspan x="1357" dy="13">麻痺の防止</tspan><tspan x="1357" dy="13">（ex.相互応援協定）</tspan></text></g>
<g id="n108"><path class="n" d="M1659 808h92v39l-7 7H1659z"/><use href="#f" x="1751" y="854"/><text class="t" x="1705" y="821.5">古い建物を<tspan x="1705" dy="13">どうするのか</tspan><tspan x="1705" dy="13">2次災害予防</tspan></text></g>
<g id="n109"><path class="n" d="M1765 808h91v54l-7 7H1765z"/><use href="#f" x="1856" y="869"/><text class="t" x="1810.5" y="822.5">避難経路<tspan x="1810.5" dy="13">（特に自転車）</tspan><tspan x="1810.5" dy="13">の整備</tspan><tspan x="1810.5" dy="13">（特に南部）</tspan></text></g>
<g id="n110"><path class="n" d="M1718 892h91v53l-7 7H1718z"/><use href="#f" x="1809" y="952"/><text class="t" x="1763.5" y="906">LEDライト、<tspan x="1763.5" dy="13">ホイッスルの</tspan><tspan x="1763.5" dy="13">提供（市から）</tspan><tspan x="1763.5" dy="13">携帯用（小中学生）</tspan></text></g>

<!-- summaries -->
<g id="sum1">
<text class="h" x="76" y="1083" textLength="272" lengthAdjust="spacingAndGlyphs">■地域主体の体制づくりと備え</text>
<text class="b" x="102" y="1113" textLength="481" lengthAdjust="spacingAndGlyphs">・リーダー育成、弱者支援、学習・訓練、地域とマンションの連携</text>
<text class="h" x="76" y="1148" textLength="382" lengthAdjust="spacingAndGlyphs">■市民と市の連携による情報の整備と普及</text>
<text class="b" x="102" y="1178" textLength="526" lengthAdjust="spacingAndGlyphs">・多様なケースへの対応、地域の協力による経費の抑制、伝わる仕組</text>
<text class="h" x="76" y="1211" textLength="259" lengthAdjust="spacingAndGlyphs">■モノ・情報を備える（自助）</text>
<text class="h" x="76" y="1244" textLength="403" lengthAdjust="spacingAndGlyphs">■学童などの地域資源を活用した地域の取組</text>
<text class="h" x="76" y="1278" textLength="268" lengthAdjust="spacingAndGlyphs">■適切な避難所・ルートの確保</text>
<g class="d"><circle cx="71" cy="1093" r="4.8"/><circle cx="82" cy="1093" r="4.8"/><circle cx="71" cy="1106" r="4.8"/><circle cx="82" cy="1106" r="4.8"/><circle cx="198" cy="1090" r="4.8"/><circle cx="210" cy="1090" r="4.8"/><circle cx="585" cy="1088" r="4.8"/>
<circle cx="61" cy="1155" r="4.8"/><circle cx="74" cy="1155" r="4.8"/><circle cx="87" cy="1155" r="4.8"/><circle cx="61" cy="1168" r="4.8"/><circle cx="74" cy="1168" r="4.8"/><circle cx="87" cy="1168" r="4.8"/><circle cx="568" cy="1154" r="4.8"/><circle cx="580" cy="1154" r="4.8"/>
<circle cx="68" cy="1237" r="4.8"/><circle cx="67" cy="1264" r="4.8"/><circle cx="67" cy="1277" r="4.8"/></g>
</g>
<g id="sum2">
<text class="h" x="682" y="1078" textLength="484" lengthAdjust="spacingAndGlyphs">■各家庭で減災に取り組む。積極的に防災訓練に参加</text>
<text class="b" x="706" y="1101" textLength="309" lengthAdjust="spacingAndGlyphs">・事前に家族で想定する（備蓄、電源等）</text>
<text class="b" x="706" y="1121" textLength="207" lengthAdjust="spacingAndGlyphs">・中学生も防災訓練に参加</text>
<text class="h" x="682" y="1147" textLength="558" lengthAdjust="spacingAndGlyphs">■町内会などの状況を把握する。町内会などの組織改革も必要</text>
<text class="b" x="706" y="1168" textLength="353" lengthAdjust="spacingAndGlyphs">・リーダーの研修・育成、若い人たちを巻き込む</text>
<text class="h" x="682" y="1194" textLength="422" lengthAdjust="spacingAndGlyphs">■インターネットなどを活用して若い人を取り込む</text>
<text class="h" x="682" y="1222" textLength="219" lengthAdjust="spacingAndGlyphs">■市民に届く!! 情報提供</text>
<text class="b" x="706" y="1243" textLength="211" lengthAdjust="spacingAndGlyphs">・災害後、情報が届くように</text>
<text class="b" x="706" y="1264" textLength="548" lengthAdjust="spacingAndGlyphs">・アナログ、オフラインの対応も必要（高齢の方を対象に、隣近所のネット</text>
<text class="b" x="718" y="1286" textLength="408" lengthAdjust="spacingAndGlyphs">ワークをつくっておく、人のつながり・助け合いが重要）</text>
<g class="d"><circle cx="924" cy="1108" r="4.8"/><circle cx="935" cy="1108" r="4.8"/><circle cx="924" cy="1121" r="4.8"/><circle cx="935" cy="1121" r="4.8"/><circle cx="947" cy="1115" r="4.8"/>
<circle cx="1073" cy="1156" r="4.8"/><circle cx="1085" cy="1156" r="4.8"/><circle cx="1097" cy="1156" r="4.8"/><circle cx="1109" cy="1156" r="4.8"/><circle cx="1121" cy="1156" r="4.8"/><circle cx="1073" cy="1168" r="4.8"/><circle cx="1085" cy="1168" r="4.8"/><circle cx="1097" cy="1168" r="4.8"/><circle cx="1109" cy="1168" r="4.8"/><circle cx="1121" cy="1168" r="4.8"/><circle cx="1132" cy="1162" r="4.8"/>
<circle cx="926" cy="1234" r="4.8"/>
<circle cx="676" cy="1258" r="4.8"/><circle cx="688" cy="1252" r="4.8"/><circle cx="699" cy="1252" r="4.8"/><circle cx="688" cy="1265" r="4.8"/><circle cx="699" cy="1265" r="4.8"/><circle cx="982" cy="1272" r="4.8"/></g>
</g>
<g id="sum3">
<text class="h" x="1303" y="1074" textLength="220" lengthAdjust="spacingAndGlyphs">■自分で自分の身を守る</text>
<text class="b" x="1326" y="1096" textLength="335" lengthAdjust="spacingAndGlyphs">・家具の固定、食料の備蓄、水・燃料の確保</text>
<text class="h" x="1303" y="1121" textLength="222" lengthAdjust="spacingAndGlyphs">■家族の中での情報共有</text>
<text class="b" x="1323" y="1143" textLength="382" lengthAdjust="spacingAndGlyphs">・別の場所で災害に遭う前提に立った事前準備を</text>
<text class="h" x="1303" y="1169" textLength="222" lengthAdjust="spacingAndGlyphs">■地域の中での情報共有</text>
<text class="b" x="1326" y="1191" textLength="427" lengthAdjust="spacingAndGlyphs">・孤立化を避ける。半径20m以内の近所のつながり強化</text>
<text class="b" x="1326" y="1213" textLength="460" lengthAdjust="spacingAndGlyphs">・地域相互の助け合い　→　川崎市全体での助け合いへ発展</text>
<text class="b" x="1326" y="1236" textLength="337" lengthAdjust="spacingAndGlyphs">・平時からの近所のコミュニケーションの強化</text>
<text class="b" x="1664" y="1236" textLength="205" lengthAdjust="spacingAndGlyphs" style="font-size:12px">（移住者、若い世代、マンション住民）</text>
<text class="h" x="1303" y="1261" textLength="299" lengthAdjust="spacingAndGlyphs">■緊急時や災害時のインフラ整備</text>
<text class="b" x="1326" y="1284" textLength="443" lengthAdjust="spacingAndGlyphs">・避難所の整備、物資の備蓄、情報共有のインフラの確立</text>
<g class="d"><circle cx="1527" cy="1062" r="4.8"/><circle cx="1538" cy="1062" r="4.8"/><circle cx="1533" cy="1071" r="4.8"/>
<circle cx="1308" cy="1137" r="4.8"/><circle cx="1318" cy="1137" r="4.8"/>
<circle cx="1468" cy="1176" r="4.8"/><circle cx="1317" cy="1207" r="4.8"/>
<circle cx="1298" cy="1230" r="4.8"/><circle cx="1309" cy="1224" r="4.8"/><circle cx="1319" cy="1224" r="4.8"/><circle cx="1309" cy="1237" r="4.8"/><circle cx="1319" cy="1237" r="4.8"/>
<circle cx="1610" cy="1249" r="4.8"/><circle cx="1620" cy="1249" r="4.8"/><circle cx="1616" cy="1259" r="4.8"/><circle cx="1627" cy="1259" r="4.8"/></g>
</g>
</svg>
